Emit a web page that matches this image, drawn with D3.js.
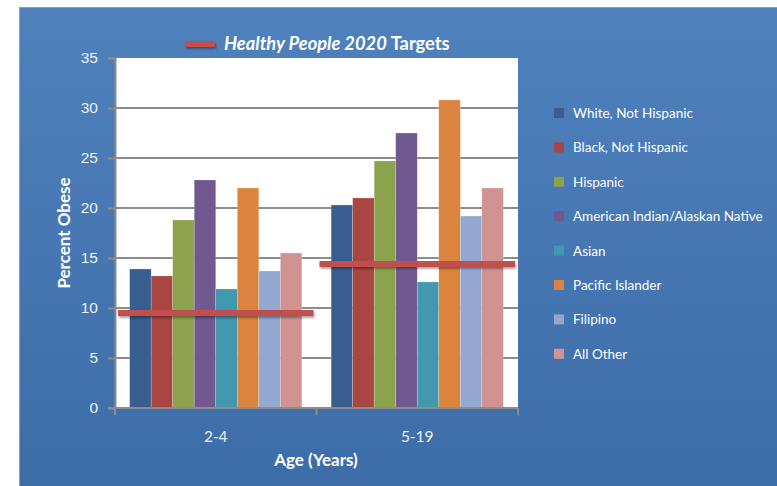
<!DOCTYPE html>
<html>
<head>
<meta charset="utf-8">
<script src="https://cdn.jsdelivr.net/npm/d3@7"></script>
<style>
  body { margin: 0; background: #fff; }
  svg { display: block; font-family: Lato, 'Open Sans', sans-serif; }
</style>
</head>
<body>
<div id="chart"></div>
<script>
let width = 777,
  height = 486

// data
let ageGroups = ['2-4', '5-19']
let groups = ['White, Not Hispanic', 'Black, Not Hispanic', 'Hispanic',
  'American Indian/Alaskan Native', 'Asian', 'Pacific Islander', 'Filipino', 'All Other']
let values24 = [13.9, 13.2, 18.8, 22.8, 11.9, 22.0, 13.7, 15.5]
let values519 = [20.3, 21.0, 24.7, 27.5, 12.6, 30.8, 19.2, 22.0]
let targets = [9.5, 14.4]
let yTicks = [0, 5, 10, 15, 20, 25, 30, 35]
let colors = ['#385E8F', '#A94542', '#8AA34C', '#71588F', '#4198AF', '#DB843D', '#93A8D0', '#D19392']

let seriesByAge = [values24, values519]

let plot = { left: 115, right: 518, top: 58, bottom: 408 }

let svg = d3.select('#chart').append('svg')
  .attr('width', width)
  .attr('height', height)

let defs = svg.append('defs')
let grad = defs.append('linearGradient')
  .attr('id', 'bg')
  .attr('x1', 0).attr('y1', 0).attr('x2', 0).attr('y2', 1)
grad.append('stop').attr('offset', '0%').attr('stop-color', '#4F81BD')
grad.append('stop').attr('offset', '100%').attr('stop-color', '#3D6DA8')

let shadow = defs.append('filter').attr('id', 'shadow')
  .attr('x', '-10%').attr('y', '-100%').attr('width', '120%').attr('height', '300%')
shadow.append('feDropShadow')
  .attr('dx', 1).attr('dy', 2).attr('stdDeviation', 1.2)
  .attr('flood-color', '#000').attr('flood-opacity', 0.35)

// background panel
svg.append('rect')
  .attr('x', 19.5).attr('y', 7.5)
  .attr('width', width - 19).attr('height', height - 7)
  .attr('fill', 'url(#bg)')
  .attr('stroke', '#9a9a9a')

// plot area
svg.append('rect')
  .attr('x', plot.left).attr('y', plot.top)
  .attr('width', plot.right - plot.left).attr('height', plot.bottom - plot.top)
  .attr('fill', '#fff')

let x0 = d3.scaleBand()
  .domain(ageGroups)
  .range([plot.left, plot.right])
  .paddingInner(0)
  .paddingOuter(0)

let x1 = d3.scaleBand()
  .domain(groups)
  .range([0, x0.bandwidth()])
  .paddingOuter(0.68)
  .paddingInner(0)

let y = d3.scaleLinear()
  .domain([0, 35])
  .range([plot.bottom, plot.top])

let color = d3.scaleOrdinal().domain(groups).range(colors)

// gridlines
svg.append('g')
  .selectAll('line')
  .data(yTicks.filter(d => d > 0 && d < 35))
  .enter().append('line')
  .attr('x1', plot.left).attr('x2', plot.right)
  .attr('y1', d => y(d)).attr('y2', d => y(d))
  .attr('stroke', '#8c8c8c')
  .attr('stroke-width', 2)

// bars
let cat = svg.append('g').selectAll('g')
  .data(ageGroups)
  .enter().append('g')
  .attr('transform', d => 'translate(' + x0(d) + ',0)')

cat.selectAll('rect')
  .data((d, i) => seriesByAge[i].map((v, j) => ({ group: groups[j], value: v })))
  .enter().append('rect')
  .attr('x', d => x1(d.group))
  .attr('y', d => y(d.value))
  .attr('width', x1.bandwidth())
  .attr('height', d => y(0) - y(d.value))
  .attr('fill', d => color(d.group))
  .attr('stroke', 'rgba(255,255,255,0.35)')
  .attr('stroke-width', 0.6)

// target lines
svg.append('g').selectAll('rect')
  .data(ageGroups)
  .enter().append('rect')
  .attr('x', d => x0(d) + 3)
  .attr('width', x0.bandwidth() - 6)
  .attr('y', (d, i) => y(targets[i]) - 3)
  .attr('height', 6)
  .attr('fill', '#C0504D')
  .attr('filter', 'url(#shadow)')

// axes
let yAxis = svg.append('g')
  .attr('transform', 'translate(' + plot.left + ',0)')
  .call(d3.axisLeft(y).tickValues(yTicks).tickSize(7).tickPadding(10))
yAxis.select('.domain').attr('stroke', '#8c8c8c').attr('stroke-width', 2)
yAxis.selectAll('.tick line').attr('stroke', '#8c8c8c').attr('stroke-width', 2)
yAxis.selectAll('.tick text')
  .attr('fill', '#eef2f8')
  .attr('font-size', 15.5)

let xAxis = svg.append('g')
  .attr('transform', 'translate(0,' + plot.bottom + ')')
xAxis.append('line')
  .attr('x1', plot.left - 7).attr('x2', plot.right)
  .attr('stroke', '#8c8c8c').attr('stroke-width', 2)
xAxis.selectAll('.tk')
  .data([plot.left, x0('5-19'), plot.right])
  .enter().append('line')
  .attr('x1', d => d).attr('x2', d => d)
  .attr('y1', 0).attr('y2', 7)
  .attr('stroke', '#8c8c8c').attr('stroke-width', 2)
xAxis.selectAll('text')
  .data(ageGroups)
  .enter().append('text')
  .attr('x', d => x0(d) + x0.bandwidth() / 2)
  .attr('y', 34)
  .attr('text-anchor', 'middle')
  .attr('fill', '#eef2f8')
  .attr('font-size', 15.5)
  .text(d => d)

// axis titles
svg.append('text')
  .attr('x', 316).attr('y', 466)
  .attr('text-anchor', 'middle')
  .attr('fill', '#fff')
  .attr('font-size', 17)
  .attr('font-weight', 'bold')
  .text('Age (Years)')

svg.append('text')
  .attr('transform', 'translate(70,233) rotate(-90)')
  .attr('text-anchor', 'middle')
  .attr('fill', '#fff')
  .attr('font-size', 17)
  .attr('font-weight', 'bold')
  .text('Percent Obese')

// title legend
svg.append('rect')
  .attr('x', 185).attr('width', 30)
  .attr('y', 41).attr('height', 6)
  .attr('fill', '#C0504D')
  .attr('filter', 'url(#shadow)')

let title = svg.append('text')
  .attr('x', 224).attr('y', 50)
  .attr('fill', '#fff')
  .attr('font-size', 18.3)
  .attr('font-weight', 'bold')
title.append('tspan').attr('font-style', 'italic').text('Healthy People 2020')
title.append('tspan').text(' Targets')

// legend
let legend = svg.append('g').selectAll('g')
  .data(groups)
  .enter().append('g')
  .attr('transform', (d, i) => 'translate(554,' + (108 + i * 34.4) + ')')

legend.append('rect')
  .attr('width', 10).attr('height', 10)
  .attr('fill', d => color(d))

legend.append('text')
  .attr('x', 19).attr('y', 10)
  .attr('fill', '#fff')
  .attr('font-size', 13.5)
  .text(d => d)
</script>
</body>
</html>
